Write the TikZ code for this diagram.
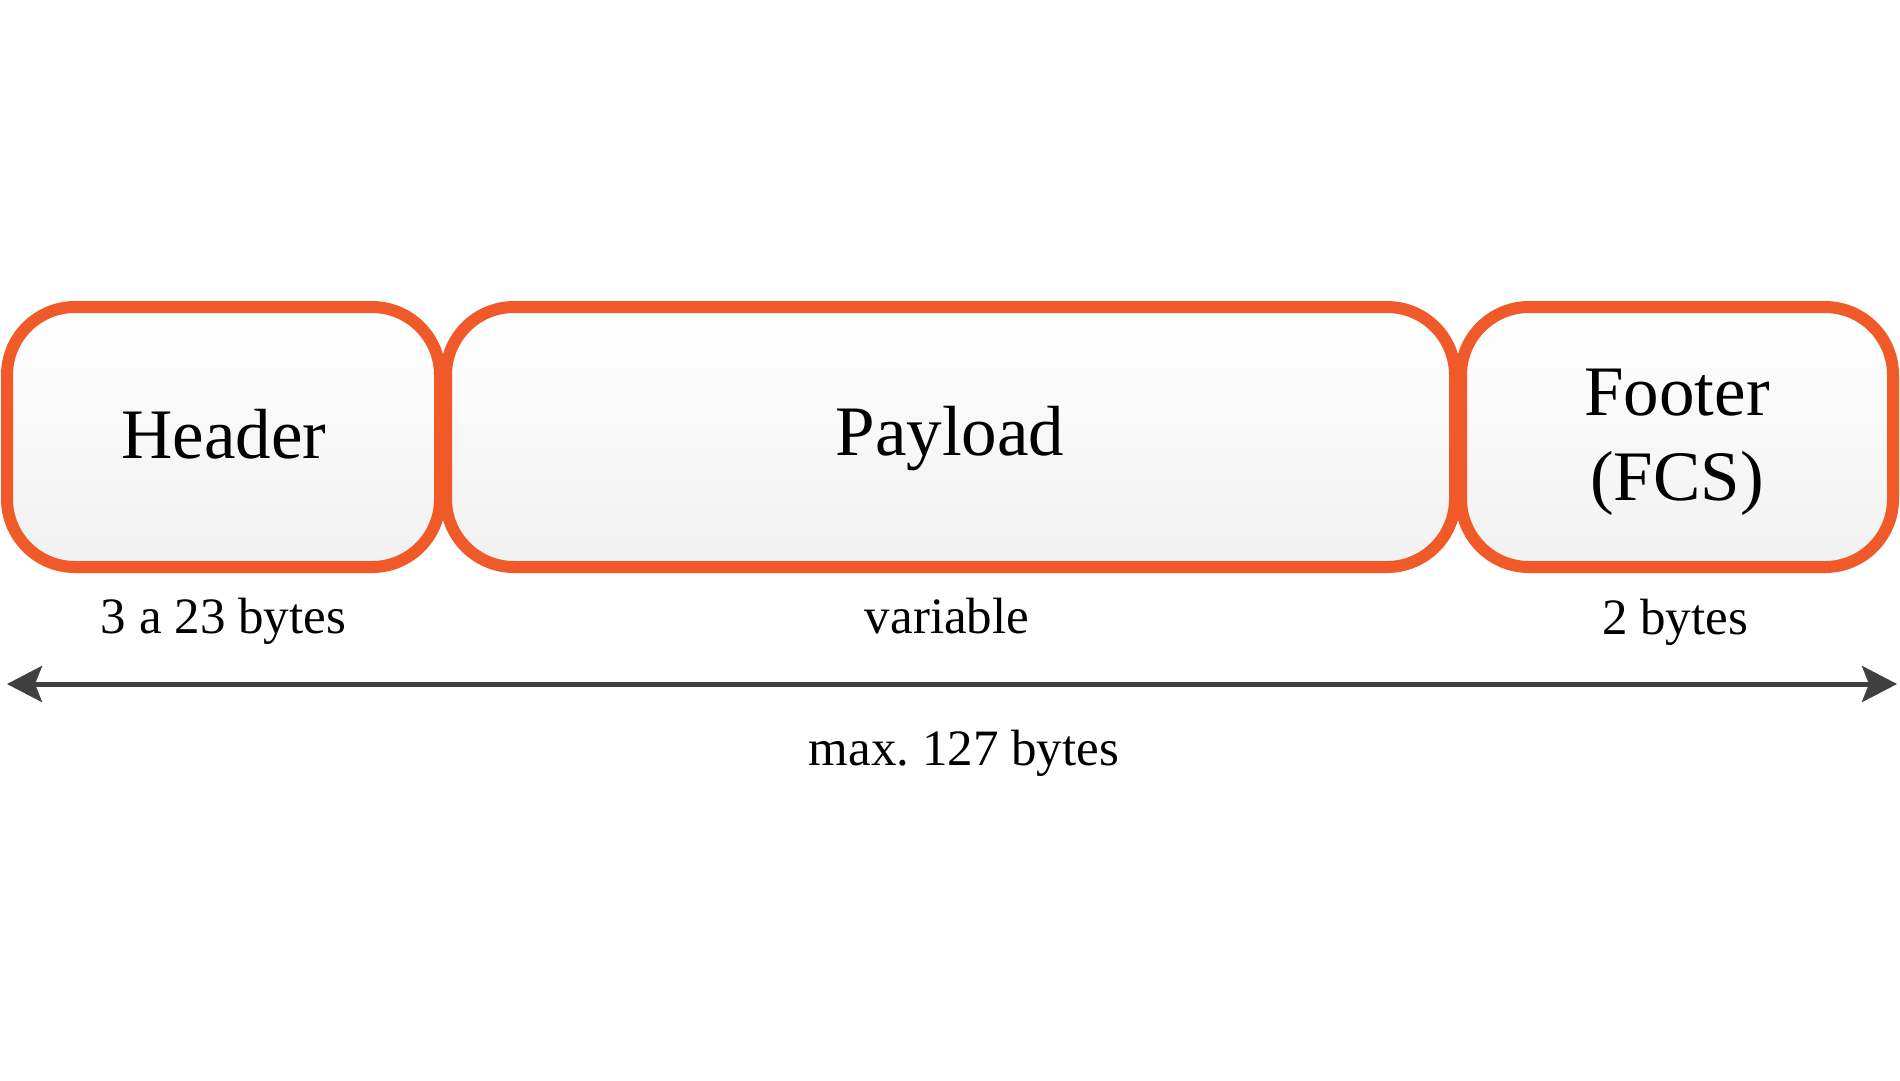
\documentclass[tikz,border=0pt]{standalone}
\usepackage{fontspec}
\setmainfont{Liberation Serif}
\usetikzlibrary{arrows.meta}
\definecolor{frameorange}{HTML}{F05A28}
\definecolor{boxbottom}{HTML}{F1F1F1}
\definecolor{arrowgray}{HTML}{404040}
\tikzset{
  fieldbox/.style={draw=frameorange, line width=12pt, rounded corners=68pt,
    top color=white, bottom color=boxbottom, minimum height=260pt,
    inner sep=0pt},
  fieldtext/.style={anchor=base, inner sep=0pt, font=\fontsize{71}{85}\selectfont},
  sizelabel/.style={anchor=base, inner sep=0pt, font=\fontsize{51}{60}\selectfont},
  spanarrow/.style={draw=arrowgray, line width=5pt,
    {Stealth[length=35pt, width=36pt, inset=7pt]}-{Stealth[length=35pt, width=36pt, inset=7pt]}}
}
\begin{document}
\frenchspacing
\begin{tikzpicture}[x=1pt, y=-1pt]
\useasboundingbox (0,0) rectangle (1900,1080);
\node[fieldbox, minimum width=433pt] (header) at (223.5,437) {};
\node[fieldbox, minimum width=1009pt] (payload) at (950.5,437) {};
\node[fieldbox, minimum width=432pt] (footer) at (1677,437) {};
\node[fieldtext] (headertext) at (224,458) {Header};
\node[fieldtext] (payloadtext) at (950,455) {Payload};
\node[fieldtext] (footertext1) at (1677,415) {Footer};
\node[fieldtext] (footertext2) at (1677,500) {(FCS)};
\node[sizelabel] (hlab) at (223.5,633) {3 a 23 bytes};
\node[sizelabel] (plab) at (947,633) {variable};
\node[sizelabel] (flab) at (1675,634) {2 bytes};
\coordinate (aleft) at (7,684);
\coordinate (aright) at (1897,684);
\draw[spanarrow] (aleft) -- (aright);
\node[sizelabel] (maxlab) at (964,765) {max. 127 bytes};
\end{tikzpicture}
\end{document}
